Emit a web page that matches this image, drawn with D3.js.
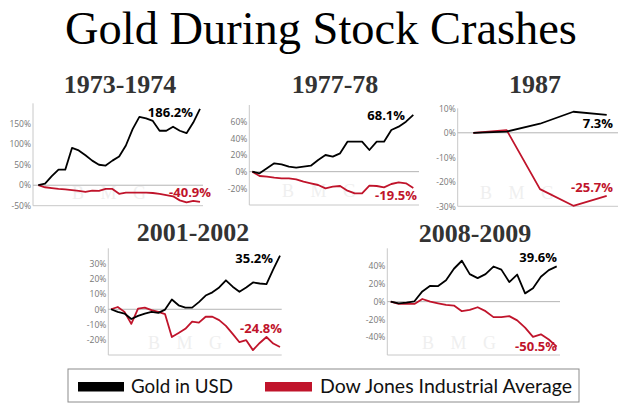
<!DOCTYPE html>
<html>
<head>
<meta charset="utf-8">
<script src="https://cdn.jsdelivr.net/npm/d3@7/dist/d3.min.js"></script>
<style>
  html, body { margin: 0; padding: 0; background: #fff; }
  svg { display: block; }
</style>
</head>
<body>
<svg id="chart" width="640" height="418"></svg>
<script>
// ---------- DATA ----------
const chartTitle = "Gold During Stock Crashes";
const panelTitles = ["1973-1974", "1977-78", "1987", "2001-2002", "2008-2009"];
const legendLabels = ["Gold in USD", "Dow Jones Industrial Average"];

const gold1973 = [0, 4, 22, 38, 38, 91, 85, 73, 60, 50, 48, 60, 70, 97, 137, 167, 163, 157, 133, 133, 143, 133, 127, 153, 186.2];
const dow1973  = [0, -5, -7, -9, -10, -12, -14, -16, -13, -14, -9, -9, -21, -18, -18, -18, -18, -19, -21, -24, -27, -37, -42, -38, -40.9];

const gold1977 = [0, -2, 4, 10, 8.8, 6, 4.8, 6, 7.2, 14, 20, 18, 22, 36, 36, 36, 26, 36, 36, 50, 54, 60, 68.1];
const dow1977  = [0, -5.2, -6, -7.2, -8, -8, -9.2, -12, -14, -16, -20, -18, -17.2, -22.8, -26, -26, -16.8, -17.2, -18.8, -14.8, -12.8, -14, -19.5];

const gold1987 = [0, 0.5, 3.7, 8.6, 7.3];
const dow1987  = [0, 1.1, -23, -29.8, -25.7];

const gold2001 = [0, -1.7, -2.8, -6.4, -4.3, -2.8, -1.7, -2.4, -0.2, 6.4, 2.6, 1.1, 1.1, 4.7, 9, 11.1, 14.3, 19, 14.8, 11.5, 14.3, 17.6, 16.9, 16.5, 26.1, 35.2];
const dow2001  = [0, 1.5, -1.7, -9.6, 0.4, 1.1, -0.6, -1.7, -3.2, -18.2, -15.6, -12.8, -8.1, -8.8, -4.9, -4.9, -7.1, -10.9, -16.1, -21.6, -20.3, -26.8, -22.1, -18.2, -22.5, -24.8];

const gold2008 = [0, -1.9, -1.1, 0.4, 11.5, 17.8, 17.5, 24, 37, 46, 31, 26.5, 31, 39.5, 36, 22, 30.5, 9.3, 15, 28, 35.5, 39.6];
const dow2008  = [0, -2.6, -2.6, -2.6, 3, 0, -1.9, -3.7, -4.4, -10.7, -9.3, -6.3, -10.7, -17.4, -17.4, -16.3, -21.1, -29.3, -39.6, -36.7, -42.6, -50.5];

const yDomains = [[-50, 200], [-40, 80], [-30, 10], [-30, 40], [-60, 60]];
const yTicks = [[-50, 0, 50, 100, 150], [-20, 0, 20, 40, 60], [-30, -20, -10, 0, 10], [-20, -10, 0, 10, 20, 30], [-40, -20, 0, 20, 40]];
const goldEndLabels = ["186.2%", "68.1%", "7.3%", "35.2%", "39.6%"];
const dowEndLabels  = ["-40.9%", "-19.5%", "-25.7%", "-24.8%", "-50.5%"];

// ---------- STYLE / LAYOUT ----------
const GOLD = "#000000";
const DOW = "#c0142b";

const layout = [
  { ax: 33,    ar: 203, yt: 103.3, yb: 205.7, dx0: 38.3,  dx1: 200,   tx: 120, ty: 93,
    gl: [193, 117], dl: [211, 197], wm: [112, 199] },
  { ax: 249.3, ar: 419, yt: 105,   yb: 205,   dx0: 252.3, dx1: 413.3, tx: 335, ty: 93,
    gl: [405, 120], dl: [417, 200], wm: [322, 197] },
  { ax: 457.7, ar: 618, yt: 108.3, yb: 206.3, dx0: 473.3, dx1: 606.7, tx: 535, ty: 93,
    gl: [613, 128], dl: [613, 192], wm: [520, 199] },
  { ax: 108.3, ar: 281.7, yt: 248.3, yb: 355, dx0: 111,   dx1: 280,   tx: 193, ty: 241,
    gl: [273, 263], dl: [282, 333], wm: [188, 349] },
  { ax: 387.3, ar: 560, yt: 248.3, yb: 355,   dx0: 390.7, dx1: 556.7, tx: 475, ty: 242,
    gl: [557, 262], dl: [557, 351], wm: [462, 349] }
];

const series = [
  [gold1973, dow1973], [gold1977, dow1977], [gold1987, dow1987],
  [gold2001, dow2001], [gold2008, dow2008]
];

const svg = d3.select("#chart");

function fitWidth(sel, target) {
  const w = sel.node().getComputedTextLength();
  const fs = parseFloat(sel.attr("font-size"));
  if (w > 0) sel.attr("font-size", (fs * target / w).toFixed(2));
}

// Main title
const mt = svg.append("text")
  .attr("x", 321).attr("y", 44)
  .attr("text-anchor", "middle")
  .attr("font-family", "'Liberation Serif', 'DejaVu Serif', serif")
  .attr("font-size", 44)
  .attr("fill", "#000")
  .text(chartTitle);
fitWidth(mt, 512);

layout.forEach((L, i) => {
  const g = svg.append("g");
  const [gold, dow] = series[i];

  // watermark
  g.append("text")
    .attr("x", L.wm[0]).attr("y", L.wm[1])
    .attr("text-anchor", "middle")
    .attr("font-family", "'Liberation Serif', serif")
    .attr("font-size", 18)
    .attr("letter-spacing", 6)
    .attr("fill", "#efefef")
    .text("B M G");

  const y = d3.scaleLinear().domain(yDomains[i]).range([L.yb, L.yt]);
  const x = d3.scaleLinear().domain([0, gold.length - 1]).range([L.dx0, L.dx1]);

  // panel title
  g.append("text")
    .attr("x", L.tx).attr("y", L.ty)
    .attr("text-anchor", "middle")
    .attr("font-family", "'Liberation Serif', 'DejaVu Serif', serif")
    .attr("font-weight", "bold")
    .attr("font-size", 26)
    .attr("fill", "#333")
    .text(panelTitles[i]);

  // y axis
  const yAxis = d3.axisLeft(y).tickValues(yTicks[i]).tickSize(0).tickPadding(2)
    .tickFormat(d => d + "%");
  const ag = g.append("g").attr("transform", `translate(${L.ax},0)`).call(yAxis);
  ag.select(".domain").remove();
  ag.selectAll("text")
    .attr("font-family", "'Open Sans', sans-serif")
    .attr("font-size", 8.5)
    .attr("fill", "#777");

  // axis lines
  g.append("line").attr("x1", L.ax).attr("x2", L.ax).attr("y1", L.yt).attr("y2", L.yb)
    .attr("stroke", "#c8c8c8").attr("stroke-width", 1);
  g.append("line").attr("x1", L.ax).attr("x2", L.ar).attr("y1", L.yb).attr("y2", L.yb)
    .attr("stroke", "#c8c8c8").attr("stroke-width", 1);
  // zero line
  g.append("line").attr("x1", L.ax).attr("x2", L.ar).attr("y1", y(0)).attr("y2", y(0))
    .attr("stroke", "#b4b4b4").attr("stroke-width", 1);

  const line = d3.line().x((d, j) => x(j)).y(d => y(d));
  g.append("path").datum(dow).attr("d", line)
    .attr("fill", "none").attr("stroke", DOW).attr("stroke-width", 1.8)
    .attr("stroke-linejoin", "round");
  g.append("path").datum(gold).attr("d", line)
    .attr("fill", "none").attr("stroke", GOLD).attr("stroke-width", 1.8)
    .attr("stroke-linejoin", "round");

  g.append("text").attr("x", L.gl[0]).attr("y", L.gl[1])
    .attr("text-anchor", "end")
    .attr("font-family", "'Open Sans', sans-serif").attr("font-weight", "bold")
    .attr("font-size", 13).attr("fill", GOLD).text(goldEndLabels[i]);
  g.append("text").attr("x", L.dl[0]).attr("y", L.dl[1])
    .attr("text-anchor", "end")
    .attr("font-family", "'Open Sans', sans-serif").attr("font-weight", "bold")
    .attr("font-size", 13).attr("fill", DOW).text(dowEndLabels[i]);
});

// Legend
const lg = svg.append("g");
lg.append("rect").attr("x", 68).attr("y", 369).attr("width", 511).attr("height", 33)
  .attr("fill", "#fff").attr("stroke", "#8c8c8c").attr("stroke-width", 1);
lg.append("rect").attr("x", 78).attr("y", 382).attr("width", 46).attr("height", 9.5).attr("fill", GOLD);
lg.append("rect").attr("x", 265).attr("y", 382).attr("width", 47).attr("height", 9.5).attr("fill", DOW);
const l1 = lg.append("text").attr("x", 131).attr("y", 393)
  .attr("font-family", "Lato, 'Open Sans', sans-serif").attr("font-size", 18)
  .attr("fill", "#111").text(legendLabels[0]);
fitWidth(l1, 102);
const l2 = lg.append("text").attr("x", 320).attr("y", 393)
  .attr("font-family", "Lato, 'Open Sans', sans-serif").attr("font-size", 18)
  .attr("fill", "#111").text(legendLabels[1]);
fitWidth(l2, 252);
</script>
</body>
</html>
